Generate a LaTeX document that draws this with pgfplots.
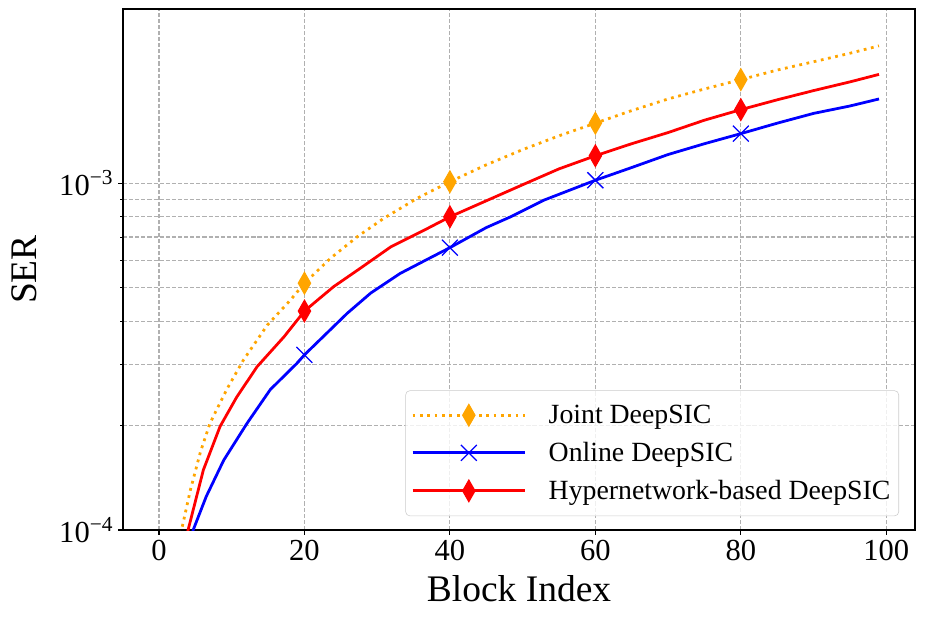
\documentclass[border=0pt]{standalone}
\usepackage{fontspec}
\setmainfont{Liberation Serif}
\usepackage{pgfplots}
\pgfplotsset{compat=1.18}
\definecolor{mplorange}{HTML}{FFA500}
\definecolor{gridgray}{HTML}{B0B0B0}
\definecolor{leggray}{HTML}{CCCCCC}
\begin{document}
\begin{tikzpicture}
\begin{axis}[
  scale only axis, width=570.24pt, height=375.12pt,
  ymode=log, xmin=-4.95, xmax=103.95, ymin=1e-4, ymax=3.18e-3,
  xtick={0,20,40,60,80,100},
  ytick={1e-4,1e-3}, yticklabels={10\textsuperscript{−4},10\textsuperscript{−3}},
  /pgf/number format/assume math mode=true,
  tick label style={font=\fontsize{22}{26}\selectfont},
  xlabel={Block Index}, ylabel={SER},
  every axis x label/.style={at={(axis description cs:0.5,0)}, anchor=base, yshift=-51.6pt, font=\fontsize{27}{32}\selectfont},
  every axis y label/.style={at={(axis description cs:0,0.5)}, rotate=90, anchor=center, yshift=71.3pt, font=\fontsize{27}{32}\selectfont},
  grid=both,
  major grid style={dash pattern=on 3pt off 1.4pt, gridgray, line width=0.8pt},
  minor grid style={dash pattern=on 3pt off 1.4pt, gridgray, line width=0.8pt},
  tick align=outside, tick pos=left,
  major tick length=3.5pt, minor tick length=2pt,
  every tick/.style={black, line width=0.8pt},
  minor tick style={black, line width=0.6pt},
  axis line style={line width=0.8pt},
  legend image code/.code={\path[draw=none,fill=none] (0pt,-1pt) rectangle (96pt,1pt);\draw[line width=2pt, fill opacity=1, draw opacity=1, mark repeat=2,mark phase=2] plot coordinates {(0pt,0pt) (40.5pt,0pt) (81pt,0pt)};},
  legend style={at={(1,0)}, anchor=south east, xshift=-11.5pt, yshift=10pt,
    draw=leggray, rounded corners=3pt, fill=white, fill opacity=0.8, text opacity=1,
    font=\fontsize{20}{24}\selectfont, row sep=8pt, inner xsep=4pt, inner ysep=8.3pt},
  legend cell align=left,
]
% Joint DeepSIC
\addplot[forget plot, mplorange, line width=2pt, dash pattern=on 2pt off 3.3pt] coordinates {
 (2,7.3e-5) (3.1,1.0e-4) (4.3,1.30e-4) (5.7,1.68e-4) (7,2.03e-4) (9.3,2.54e-4) (11.6,3.09e-4)
 (14.9,3.90e-4) (18.1,4.61e-4) (20,5.15e-4) (23.6,6.08e-4) (27.3,7.02e-4) (30.9,7.92e-4)
 (35.5,9.05e-4) (40,1.01e-3) (45,1.13e-3) (50,1.25e-3) (55,1.37e-3) (60,1.49e-3) (65,1.62e-3)
 (70,1.75e-3) (75,1.87e-3) (80,1.99e-3) (85,2.12e-3) (90,2.24e-3) (95,2.37e-3) (99,2.49e-3)};
\addplot[forget plot, only marks, mplorange, mark=diamond*, mark size=7.8pt, mark options={xscale=0.76, solid, line width=0.8pt}] coordinates {
 (20,5.15e-4) (40,1.01e-3) (60,1.49e-3) (80,1.99e-3)};
% Online DeepSIC
\addplot[forget plot, blue, line width=2pt] coordinates {
 (4,8.5e-5) (4.7,1e-4) (6.5,1.25e-4) (8.9,1.59e-4) (12.1,2.03e-4) (15.3,2.54e-4) (19,3.03e-4) (20,3.2e-4)
 (25.9,4.22e-4) (29.1,4.82e-4) (33.2,5.50e-4) (37,6.05e-4) (40,6.52e-4) (45,7.45e-4) (48.4,8.01e-4)
 (53,8.95e-4) (60,1.02e-3) (65,1.11e-3) (70,1.21e-3) (75,1.30e-3) (80,1.39e-3) (85,1.49e-3)
 (90,1.59e-3) (95,1.67e-3) (99,1.75e-3)};
\addplot[forget plot, only marks, blue, mark=x, mark size=8.1pt, mark options={solid, line width=0.9pt}] coordinates {
 (20,3.2e-4) (40,6.52e-4) (60,1.02e-3) (80,1.39e-3)};
% Hypernetwork-based DeepSIC
\addplot[forget plot, red, line width=2pt] coordinates {
 (3,8e-5) (4,1.0e-4) (6.1,1.49e-4) (8.4,1.99e-4) (10.7,2.42e-4) (13.5,2.96e-4) (17.2,3.61e-4)
 (20,4.28e-4) (24,5.03e-4) (27.7,5.69e-4) (31.9,6.56e-4) (36.5,7.33e-4) (40,8.0e-4) (45,8.9e-4)
 (50,9.9e-4) (55,1.1e-3) (60,1.20e-3) (65,1.30e-3) (70,1.40e-3) (75,1.52e-3) (80,1.63e-3)
 (85,1.74e-3) (90,1.85e-3) (95,1.96e-3) (99,2.06e-3)};
\addplot[forget plot, only marks, red, mark=diamond*, mark size=7.8pt, mark options={xscale=0.76, solid, line width=0.8pt}] coordinates {
 (20,4.28e-4) (40,8.0e-4) (60,1.20e-3) (80,1.63e-3)};
\addlegendimage{mplorange, dash pattern=on 2pt off 3.3pt, mark=diamond*, mark size=7.8pt, mark options={xscale=0.76, solid, line width=0.8pt, fill opacity=1}}
\addlegendentry{Joint DeepSIC}
\addlegendimage{blue, mark=x, mark size=8.1pt, mark options={solid, line width=0.9pt}}
\addlegendentry{Online DeepSIC}
\addlegendimage{red, mark=diamond*, mark size=7.8pt, mark options={xscale=0.76, solid, line width=0.8pt, fill opacity=1}}
\addlegendentry{Hypernetwork-based DeepSIC}
\coordinate (sw) at (rel axis cs:0,0);
\coordinate (ne) at (rel axis cs:1,1);
\end{axis}
\pgfresetboundingbox
\path ([shift={(-88.56pt,-64.08pt)}]sw) rectangle ([shift={(7.2pt,6.48pt)}]ne);
\end{tikzpicture}
\end{document}
